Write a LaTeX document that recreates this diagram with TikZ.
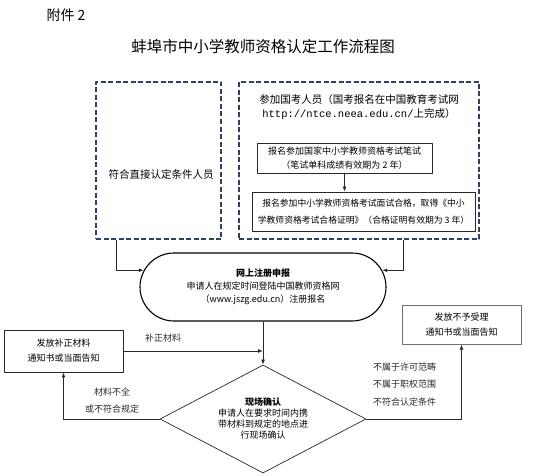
\documentclass[tikz,border=0pt]{standalone}
\usepackage{fontspec}
\setmainfont{Noto Sans CJK SC}
\newfontfamily\urlfont{Liberation Mono}
\usetikzlibrary{arrows.meta,shapes.geometric,shapes.misc}
\definecolor{dashnavy}{RGB}{47,66,96}
\definecolor{boxgray}{RGB}{112,112,112}
\definecolor{inkgray}{RGB}{40,40,40}

\begin{document}
\begin{tikzpicture}[x=1pt,y=1pt,line join=round,>={Latex[length=5pt,width=4pt]},
  font=\fontsize{9}{15}\selectfont,
  dashbox/.style={draw=dashnavy,line width=1.8pt,dash pattern=on 5pt off 2.5pt,inner sep=0pt},
  plainbox/.style={draw=inkgray,line width=.8pt,align=center,inner sep=0pt},
  note/.style={align=center,inner sep=0pt,text=inkgray},
  link/.style={draw=inkgray,line width=.9pt,->}]
  \useasboundingbox (0,0) rectangle (533,475);

  % headings
  \node[font=\fontsize{14}{16}\selectfont] (Annex) at (66,460) {附件 2};
  \node[font=\fontsize{15.5}{18}\selectfont] (Title) at (263,428) {蚌埠市中小学教师资格认定工作流程图};

  % two groups of applicants
  \node[dashbox,minimum width=125pt,minimum height=157pt] (Direct) at (158.5,314.5) {};
  \node[font=\fontsize{10.5}{14}\selectfont] (DirectText) at (161,301) {符合直接认定条件人员};

  \node[dashbox,minimum width=240pt,minimum height=157pt] (Exam) at (359,314.5) {};
  \node[align=center,font=\fontsize{10.5}{14}\selectfont] (ExamHead) at (359,368)
    {参加国考人员（国考报名在中国教育考试网\\{\urlfont http://ntce.neea.edu.cn/}上完成）};
  \node[plainbox,minimum width=175pt,minimum height=30pt,font=\fontsize{9}{14}\selectfont] (Written) at (344.5,317)
    {报名参加国家中小学教师资格考试笔试\\（笔试单科成绩有效期为 2 年）};
  \node[plainbox,minimum width=223pt,minimum height=39pt,font=\fontsize{8.8}{17}\selectfont] (Interview) at (363.5,263.5)
    {报名参加中小学教师资格考试面试合格，取得《中小\\学教师资格考试合格证明》（合格证明有效期为 3 年）};

  % online registration and on-site check
  \node[draw=black,rounded rectangle,line width=1.1pt,minimum width=246pt,minimum height=68pt,
    align=center,inner sep=0pt,font=\fontsize{9}{13}\selectfont] (Reg) at (263,188)
    {{\bfseries 网上注册申报}\\申请人在规定时间登陆中国教师资格网\\（www.jszg.edu.cn）注册报名};
  \node[draw=inkgray,diamond,line width=.7pt,aspect=1.9,minimum width=206pt,minimum height=108pt,
    align=center,inner sep=0pt,font=\fontsize{9}{11}\selectfont] (Confirm) at (263,56)
    {{\bfseries 现场确认}\\申请人在要求时间内携\\带材料到规定的地点进\\行现场确认};

  % outcome boxes
  \node[plainbox,minimum width=119pt,minimum height=42pt] (Supp) at (63.5,124)
    {发放补正材料\\通知书或当面告知};
  \node[plainbox,draw=boxgray,line width=1pt,minimum width=119pt,minimum height=39pt] (Reject) at (461.5,150.5)
    {发放不予受理\\通知书或当面告知};

  % labels on the branches
  \node[note] (SuppLabel) at (163,137) {补正材料};
  \node[note,font=\fontsize{9}{17}\selectfont] (LackLabel) at (112,74.5) {材料不全\\或不符合规定};
  \node[note,align=left,anchor=west,font=\fontsize{9}{17.5}\selectfont] (RejectLabel) at (373,90.5)
    {不属于许可范畴\\不属于职权范围\\不符合认定条件};

  % connectors
  \draw[link] ([xshift=-42.5pt]Direct.south) |- (Reg.172);
  \draw[link] ([xshift=44pt]Exam.south) |- (Reg.8);
  \draw[link] (Written.south) -- (Written.south |- Interview.north);
  \draw[link] (Reg.south) -- (Confirm.north);
  \draw[link] (Supp.east) -- (Supp.east -| Confirm.north);
  \draw[link] (Confirm.west) -| (Supp.south);
  \draw[link] (Confirm.east) -| (Reject.south);
\end{tikzpicture}
\end{document}
